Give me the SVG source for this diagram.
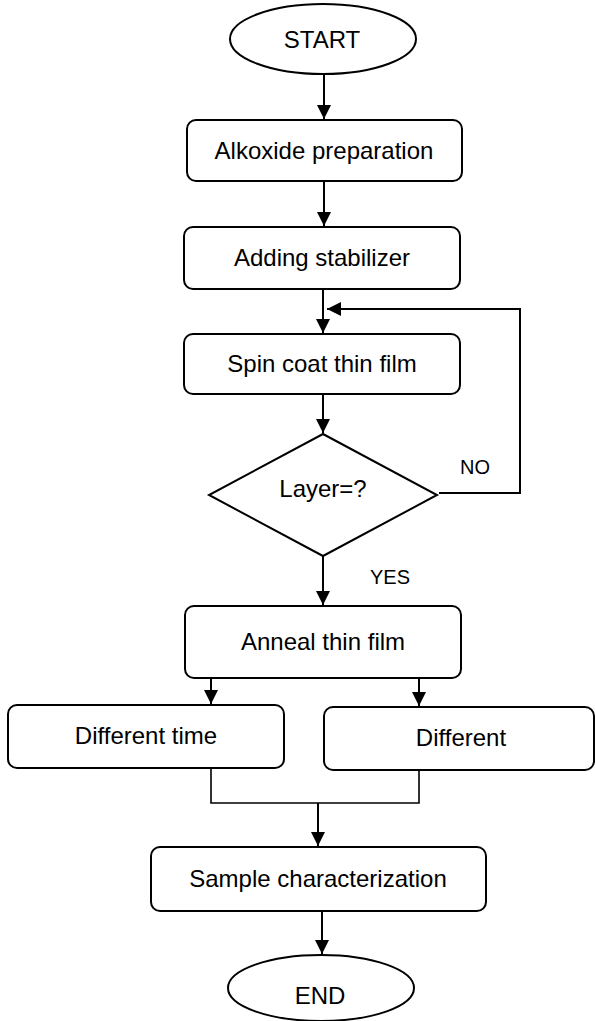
<svg xmlns="http://www.w3.org/2000/svg" width="595" height="1021" viewBox="0 0 595 1021">
<style>
.n{fill:#fff;stroke:#000;stroke-width:2}
.t{font-family:"Liberation Sans",Arial,sans-serif;font-size:24px;fill:#000;text-anchor:middle}
.l{font-family:"Liberation Sans",Arial,sans-serif;font-size:20px;fill:#000;text-anchor:middle}
.c{fill:none;stroke:#000;stroke-width:2}
.m{fill:none;stroke:#000;stroke-width:1.6}
</style>
<defs>
<marker id="ah" markerUnits="userSpaceOnUse" markerWidth="14" markerHeight="14" refX="14" refY="7" orient="auto">
<path d="M0,0 L14,7 L0,14 z" fill="#000"/>
</marker>
</defs>
<g id="start"><ellipse class="n" cx="323" cy="39" rx="93" ry="35"/><text class="t" x="322" y="48">START</text></g>
<g id="alkoxide"><rect class="n" x="187" y="120" width="275" height="61" rx="9"/><text class="t" x="324" y="159">Alkoxide preparation</text></g>
<g id="stabilizer"><rect class="n" x="184" y="227" width="276" height="62" rx="9"/><text class="t" x="322" y="266">Adding stabilizer</text></g>
<g id="spin"><rect class="n" x="184" y="334" width="276" height="60" rx="9"/><text class="t" x="322" y="372">Spin coat thin film</text></g>
<g id="layer"><polygon class="n" points="323,434 437,495 323,556 209,495"/><text class="t" x="323" y="497">Layer=?</text></g>
<g id="anneal"><rect class="n" x="185" y="606" width="276" height="72" rx="9"/><text class="t" x="323" y="650">Anneal thin film</text></g>
<g id="difftime"><rect class="n" x="8" y="705" width="276" height="63" rx="9"/><text class="t" x="146" y="744">Different time</text></g>
<g id="diff"><rect class="n" x="324" y="707" width="270" height="63" rx="9"/><text class="t" x="461" y="746">Different</text></g>
<g id="sample"><rect class="n" x="151" y="847" width="335" height="64" rx="9"/><text class="t" x="318" y="887">Sample characterization</text></g>
<g id="end"><ellipse class="n" cx="321" cy="988" rx="93" ry="33"/><text class="t" x="320" y="1004">END</text></g>
<g id="connectors">
<line class="c" x1="324" y1="74" x2="324" y2="119" marker-end="url(#ah)"/>
<line class="c" x1="324" y1="181" x2="324" y2="226" marker-end="url(#ah)"/>
<line class="c" x1="323" y1="289" x2="323" y2="333" marker-end="url(#ah)"/>
<line class="c" x1="323" y1="394" x2="323" y2="433" marker-end="url(#ah)"/>
<polyline class="c" points="439,493 520,493 520,309 327,309" marker-end="url(#ah)"/>
<text class="l" x="475" y="474">NO</text>
<line class="c" x1="323" y1="556" x2="323" y2="605" marker-end="url(#ah)"/>
<text class="l" x="390" y="584">YES</text>
<line class="c" x1="211" y1="678" x2="211" y2="704" marker-end="url(#ah)"/>
<line class="c" x1="419" y1="678" x2="419" y2="706" marker-end="url(#ah)"/>
<polyline class="m" points="211,768 211,803 419,803 419,770"/>
<line class="c" x1="318" y1="803" x2="318" y2="846" marker-end="url(#ah)"/>
<line class="c" x1="322" y1="911" x2="322" y2="954" marker-end="url(#ah)"/>
</g>
</svg>
